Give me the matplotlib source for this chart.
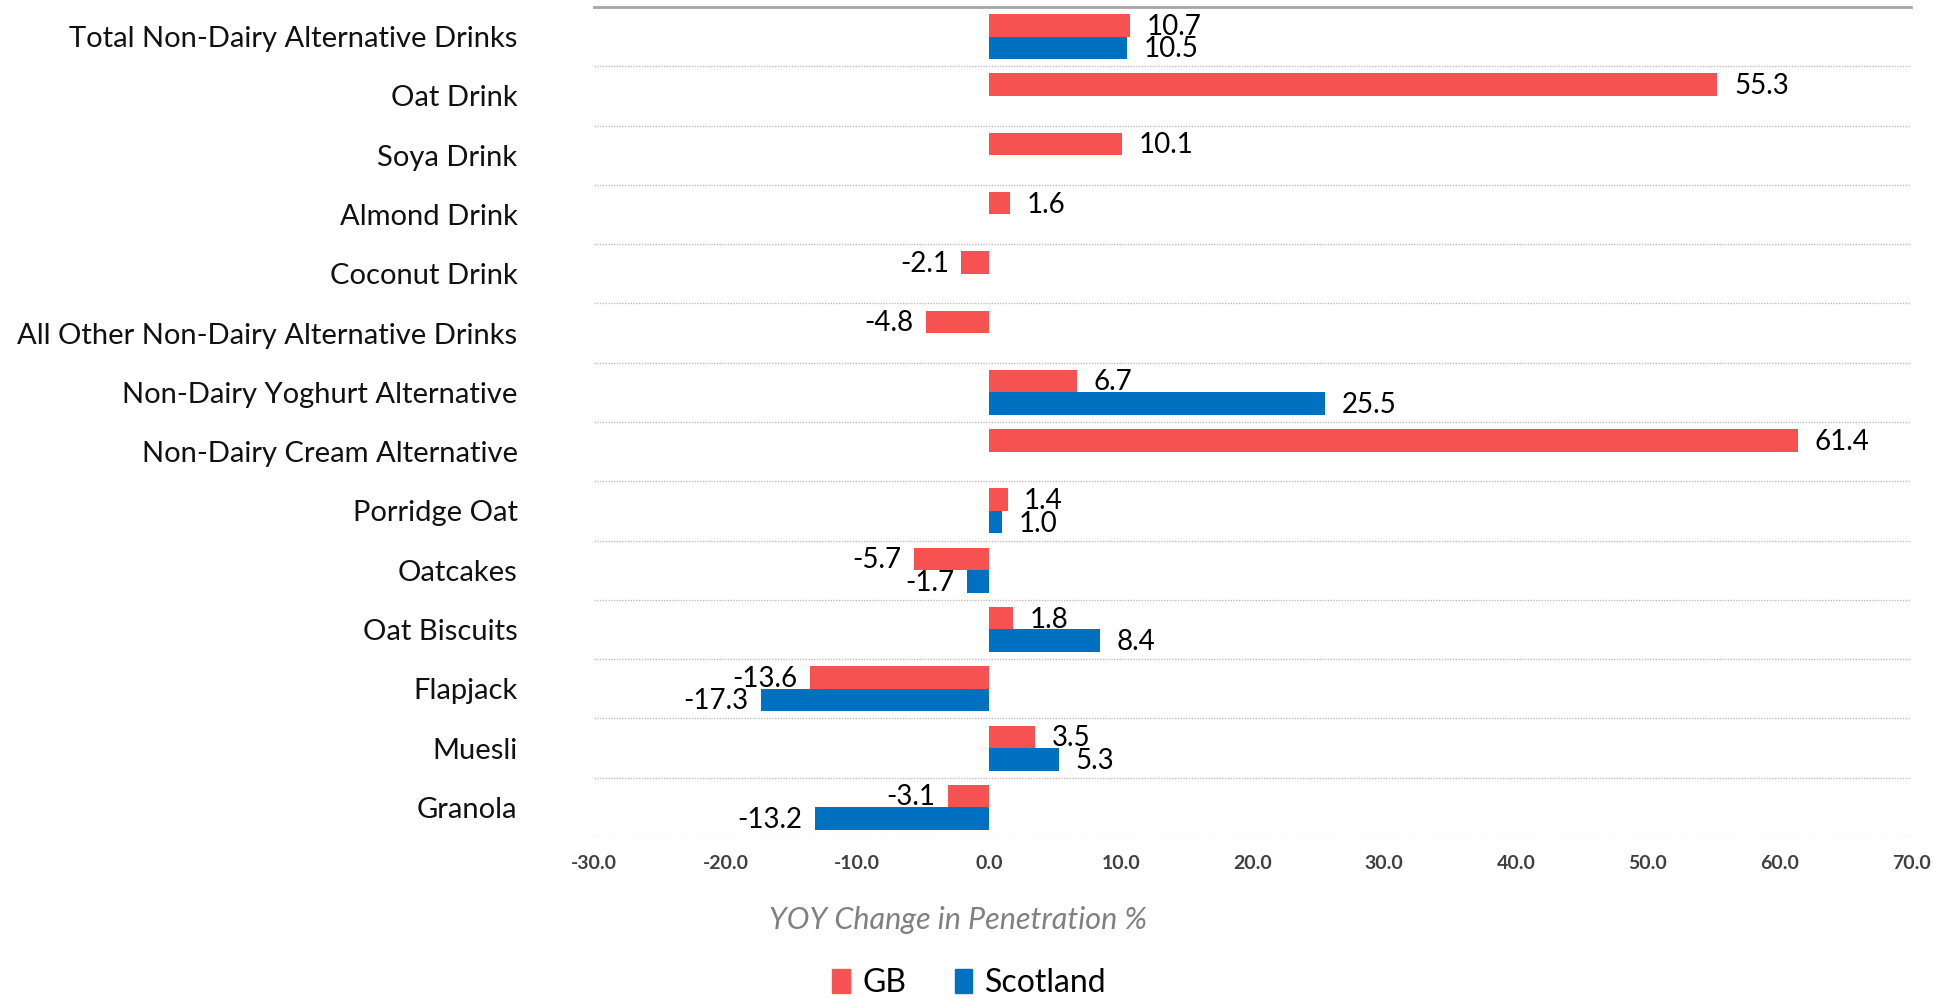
import matplotlib
matplotlib.use('Agg')
import matplotlib.pyplot as plt
from matplotlib.patches import Patch
import numpy as np

plt.rcParams['font.family'] = ['Lato', 'DejaVu Sans']

categories = ['Total Non-Dairy Alternative Drinks', 'Oat Drink', 'Soya Drink', 'Almond Drink',
              'Coconut Drink', 'All Other Non-Dairy Alternative Drinks', 'Non-Dairy Yoghurt Alternative',
              'Non-Dairy Cream Alternative', 'Porridge Oat', 'Oatcakes', 'Oat Biscuits', 'Flapjack',
              'Muesli', 'Granola']
gb = [10.7, 55.3, 10.1, 1.6, -2.1, -4.8, 6.7, 61.4, 1.4, -5.7, 1.8, -13.6, 3.5, -3.1]
scotland = [10.5, None, None, None, None, None, 25.5, None, 1.0, -1.7, 8.4, -17.3, 5.3, -13.2]
x_ticks = [-30, -20, -10, 0, 10, 20, 30, 40, 50, 60, 70]

gb_color = '#F75252'
scot_color = '#0070C0'

fig = plt.figure(figsize=(19.39, 9.99), dpi=100)
ax = fig.add_axes([0.3063, 0.1622, 0.6793, 0.8308])

y = np.arange(len(categories))
bar_h = 0.38


def add_series(values, offset, color):
    for i, v in enumerate(values):
        if v is None:
            continue
        ax.barh(y[i] + offset, v, height=bar_h, color=color, edgecolor='none')
        if v >= 0:
            ax.annotate(f'{v:.1f}', (v, y[i] + offset), xytext=(12, -1), textcoords='offset points',
                        ha='left', va='center', fontsize=20, color='black')
        else:
            ax.annotate(f'{v:.1f}', (v, y[i] + offset), xytext=(-9, -1), textcoords='offset points',
                        ha='right', va='center', fontsize=20, color='black')


add_series(gb, -bar_h / 2, gb_color)
add_series(scotland, bar_h / 2, scot_color)

ax.set_xlim(-30, 70)
ax.set_ylim(len(categories) - 0.5, -0.5)

# row separators
for b in np.arange(0.5, len(categories) + 0.5, 1):
    ax.axhline(b, color='#BFBFBF', linewidth=1, linestyle=(0, (1, 1)), zorder=0)

for side in ['left', 'right', 'bottom']:
    ax.spines[side].set_visible(False)
ax.spines['top'].set_color('#A6A6A6')
ax.spines['top'].set_linewidth(2)

ax.set_yticks(y)
ax.set_yticklabels(categories, fontsize=21, color='#111111')
ax.tick_params(axis='y', length=0, pad=55)
ax.set_xticks(x_ticks)
ax.set_xticklabels([f'{t:.1f}' for t in x_ticks], fontsize=14, fontweight='bold', color='#404040')
ax.tick_params(axis='x', length=0, pad=13)

fig.text(0.494, 0.079, 'YOY Change in Penetration %', ha='center', va='center',
         fontsize=22, style='italic', color='#808080')

handles = [Patch(color=gb_color, label='GB'), Patch(color=scot_color, label='Scotland')]
fig.legend(handles=handles, loc='center', bbox_to_anchor=(0.5, 0.016), ncol=2, frameon=False,
           fontsize=23, handlelength=0.55, handleheight=0.75, handletextpad=0.4, columnspacing=1.5)

fig.savefig('out.png', dpi=100)
